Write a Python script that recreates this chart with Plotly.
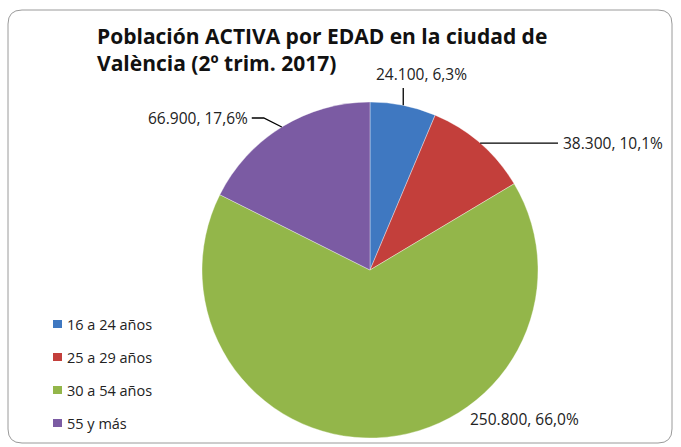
import math
import plotly.graph_objects as go

categories = ["16 a 24 años", "25 a 29 años", "30 a 54 años", "55 y más"]
values = [24100, 38300, 250800, 66900]
value_labels = ["24.100", "38.300", "250.800", "66.900"]
pct_labels = ["6,3%", "10,1%", "66,0%", "17,6%"]
colors = ["#3f78c1", "#c33f3b", "#93b64a", "#7b5ba3"]

W, H = 681, 447
CX, CY, R = 370, 270, 168

fig = go.Figure()
fig.add_trace(go.Pie(
    labels=categories, values=values, sort=False, direction="clockwise",
    marker=dict(colors=colors, line=dict(color="rgba(255,255,255,0.6)", width=0.6)),
    textinfo="none", hoverinfo="label+value+percent", showlegend=False,
    domain=dict(x=[(CX - R) / W, (CX + R) / W], y=[(H - CY - R) / H, (H - CY + R) / H]),
))

total = sum(values)
cum = 0
anchors = []
for v in values:
    mid = (cum + v / 2) / total * 2 * math.pi
    anchors.append((CX + R * math.sin(mid), CY - R * math.cos(mid)))
    cum += v

def P(px, py):
    return px / W, 1 - py / H

shapes = []
annotations = []
font = dict(family="Open Sans", size=15.5, color="#222")
texts = [f"{a}, {b}" for a, b in zip(value_labels, pct_labels)]
LC = dict(color="black", width=1.3)

# blue: vertical leader
ax0, ay0 = anchors[0]
x0, y0 = P(ax0, ay0); x1, y1 = P(ax0, 88)
shapes.append(dict(type="line", xref="paper", yref="paper", x0=x0, y0=y0, x1=x1, y1=y1, line=LC))
tx, ty = P(ax0 + 18, 74)
annotations.append(dict(x=tx, y=ty, xref="paper", yref="paper", text=texts[0], showarrow=False, font=font, xanchor="center", yanchor="middle"))

# red: horizontal leader
ax1, ay1 = anchors[1]
x0, y0 = P(ax1, ay1); x1, y1 = P(558, ay1)
shapes.append(dict(type="line", xref="paper", yref="paper", x0=x0, y0=y0, x1=x1, y1=y1, line=LC))
tx, ty = P(561, ay1)
annotations.append(dict(x=tx, y=ty, xref="paper", yref="paper", text=texts[1], showarrow=False, font=font, xanchor="left", yanchor="middle"))

# green: no leader
tx, ty = P(524, 419)
annotations.append(dict(x=tx, y=ty, xref="paper", yref="paper", text=texts[2], showarrow=False, font=font, xanchor="center", yanchor="middle"))

# purple: bent leader
ax3, ay3 = anchors[3]
kx, ky = ax3 - 18, 118
x0, y0 = P(ax3, ay3); x1, y1 = P(kx, ky); x2, y2 = P(kx - 12, ky)
shapes.append(dict(type="path", xref="paper", yref="paper",
                   path=f"M {x0},{y0} L {x1},{y1} L {x2},{y2}", line=LC))
tx, ty = P(kx - 14, ky)
annotations.append(dict(x=tx, y=ty, xref="paper", yref="paper", text=texts[3], showarrow=False, font=font, xanchor="right", yanchor="middle"))

# manual legend
LX, LY0, LDY = 53, 324, 33
lfont = dict(family="Open Sans", size=14.5, color="#222")
for i, (c, col) in enumerate(zip(categories, colors)):
    yc = LY0 + i * LDY
    shapes.append(dict(type="rect", xref="paper", yref="paper",
                       x0=LX / W, x1=(LX + 9) / W, y0=1 - (yc + 4) / H, y1=1 - (yc - 4) / H,
                       fillcolor=col, line=dict(width=0)))
    annotations.append(dict(x=(LX + 12) / W, y=1 - yc / H, xref="paper", yref="paper",
                            text=c, showarrow=False, font=lfont, xanchor="left", yanchor="middle"))

# chart border (rounded rectangle)
L, T, Rr, B, rad = 8, 10, 672, 443, 14
def xp(v): return v / W
def yp(v): return 1 - v / H
path = (f"M {xp(L+rad)},{yp(T)} L {xp(Rr-rad)},{yp(T)} Q {xp(Rr)},{yp(T)} {xp(Rr)},{yp(T+rad)} "
        f"L {xp(Rr)},{yp(B-rad)} Q {xp(Rr)},{yp(B)} {xp(Rr-rad)},{yp(B)} "
        f"L {xp(L+rad)},{yp(B)} Q {xp(L)},{yp(B)} {xp(L)},{yp(B-rad)} "
        f"L {xp(L)},{yp(T+rad)} Q {xp(L)},{yp(T)} {xp(L+rad)},{yp(T)} Z")
shapes.append(dict(type="path", xref="paper", yref="paper", path=path, line=dict(color="#9a9a9a", width=1), layer="below"))

annotations.append(dict(x=95 / W, y=1 - 20 / H, xref="paper", yref="paper", xanchor="left", yanchor="top",
                        align="left", showarrow=False,
                        text="<b>Población ACTIVA por EDAD en la ciudad de<br>València (2º trim. 2017)</b>",
                        font=dict(family="Open Sans", size=21, color="#111")))

fig.update_layout(
    width=W, height=H, margin=dict(l=0, r=0, t=0, b=0),
    paper_bgcolor="white",
    showlegend=False,
    shapes=shapes, annotations=annotations,
)

fig.write_html("out.html", config={"displayModeBar": False},
               post_script="document.body.style.margin='0px';")
